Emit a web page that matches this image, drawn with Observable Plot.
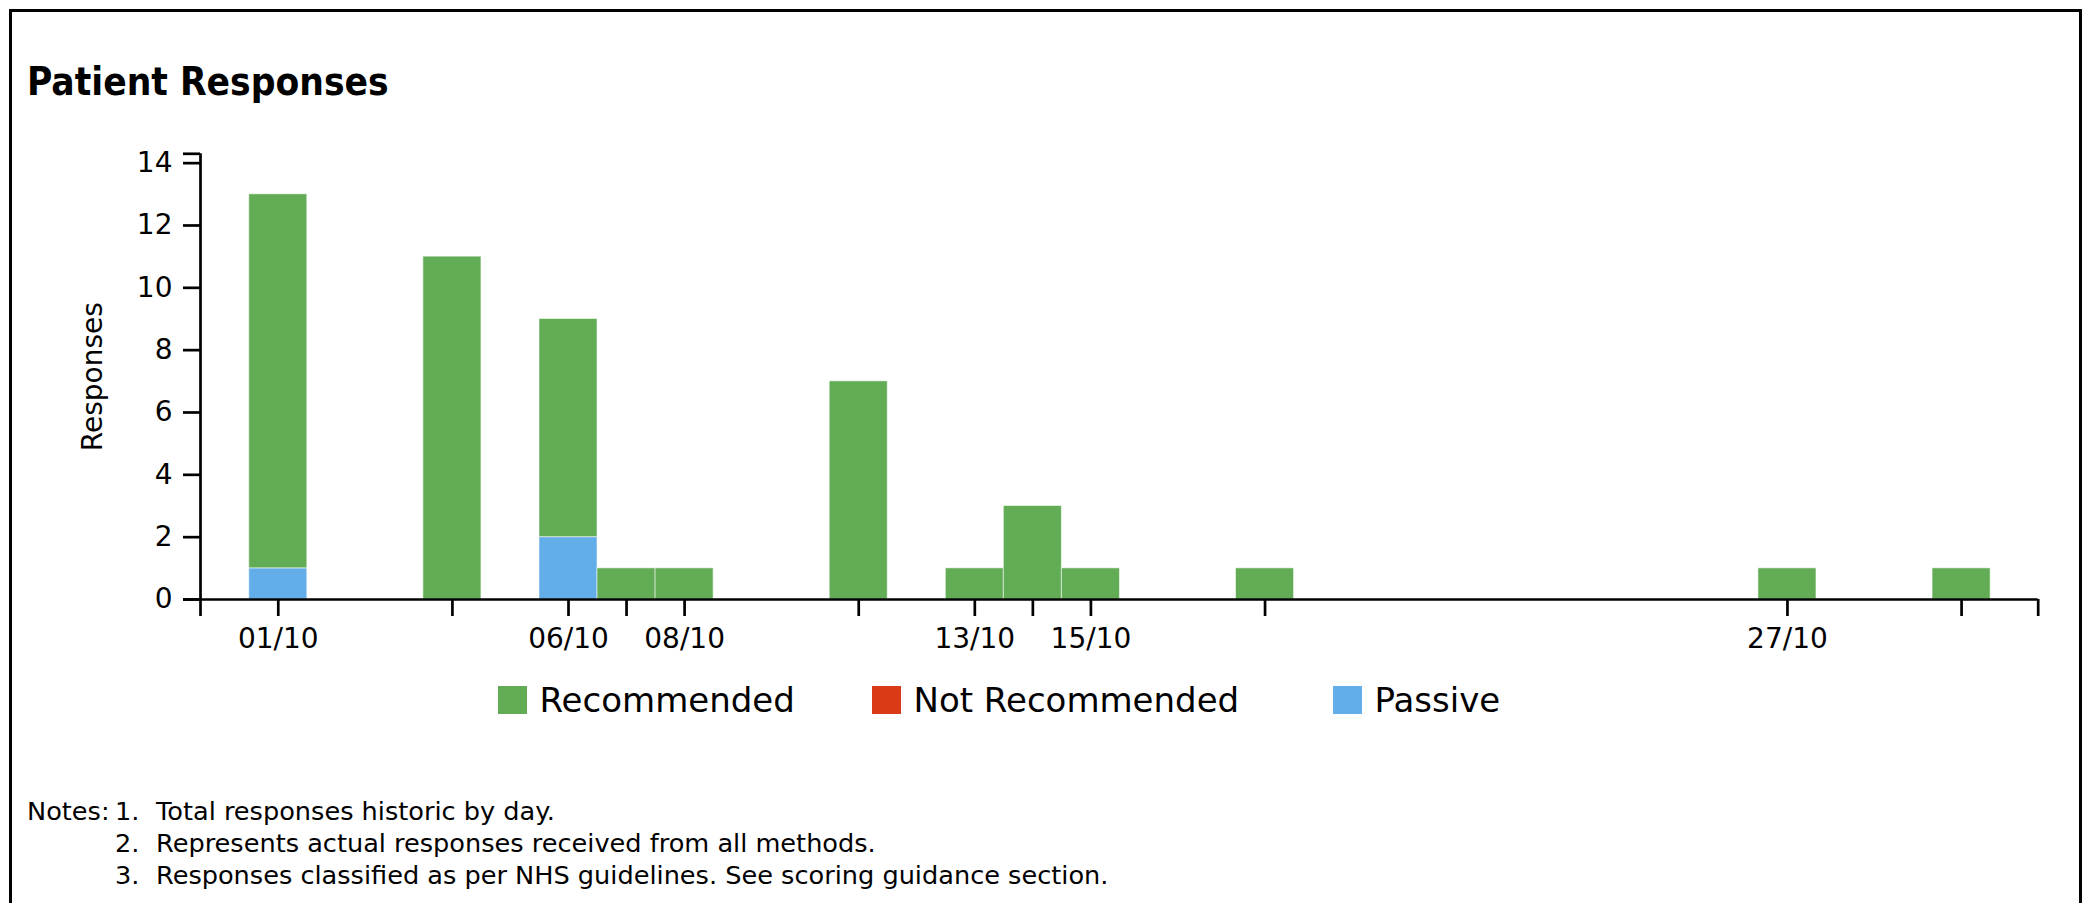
<!DOCTYPE html>
<html>
<head>
<meta charset="utf-8">
<script src="https://cdn.jsdelivr.net/npm/d3@7"></script>
<script src="https://cdn.jsdelivr.net/npm/@observablehq/plot@0.6"></script>
<style>
  html, body { margin: 0; padding: 0; background: #fff; overflow: hidden; width: 2092px; height: 903px; }
  body { position: relative; font-family: "DejaVu Sans", sans-serif; color: #000; }
  #frame { position: absolute; left: 9px; top: 9px; width: 2067px; height: 1000px; border: 3px solid #000; }
  #title { position: absolute; left: 27px; top: 63px; font-family: "DejaVu Sans Condensed", "DejaVu Sans", sans-serif; font-stretch: condensed; font-size: 38.5px; line-height: 38.5px; font-weight: bold; margin: 0; white-space: nowrap; }
  #chart { position: absolute; left: 12px; top: 130px; }
  #legend { position: absolute; left: 498px; top: 683px; display: flex; align-items: center; font-size: 34px; line-height: 34px; white-space: nowrap; }
  #legend .item { display: flex; align-items: center; }
  #legend .item:nth-child(1) { width: 374px; }
  #legend .item:nth-child(2) { width: 461px; }
  #legend .sw { width: 28.5px; height: 28.5px; margin-right: 13px; }
  #notes { position: absolute; left: 27px; top: 795px; font-size: 25.6px; line-height: 32px; display: grid; grid-template-columns: 88px 41px auto; white-space: pre; }
</style>
</head>
<body>
<div id="frame"></div>
<h1 id="title">Patient Responses</h1>
<div id="chart"></div>
<div id="legend"></div>
<div id="notes"></div>
<script>
// ---- data ----
const days = ["01/10", "04/10", "06/10", "07/10", "08/10", "11/10", "13/10", "14/10", "15/10", "18/10", "27/10", "30/10"];
const recommended    = [12, 11, 7, 1, 1, 7, 1, 3, 1, 1, 1, 1];
const notRecommended = [0, 0, 0, 0, 0, 0, 0, 0, 0, 0, 0, 0];
const passive        = [1, 0, 2, 0, 0, 0, 0, 0, 0, 0, 0, 0];
const xTickLabels = ["01/10", "06/10", "08/10", "13/10", "15/10", "27/10"];
const yTicks = [0, 2, 4, 6, 8, 10, 12, 14];
const seriesNames = ["Recommended", "Not Recommended", "Passive"];
const seriesColors = ["#62ac55", "#db3a16", "#63ade9"];
const yLabel = "Responses";
const notes = [
  "Total responses historic by day.",
  "Represents actual responses received from all methods.",
  "Responses classified as per NHS guidelines. See scoring guidance section."
];

// ---- build ----
const DAY = 864e5;
const toDate = s => { const [d, m] = s.split("/").map(Number); return new Date(Date.UTC(2023, m - 1, d)); };
const rows = days.map((d, i) => {
  const date = toDate(d);
  return {
    label: d,
    x1: new Date(+date - DAY / 2),
    x2: new Date(+date + DAY / 2),
    date,
    p0: 0, p1: passive[i],
    n0: passive[i], n1: passive[i] + notRecommended[i],
    r0: passive[i] + notRecommended[i], r1: passive[i] + notRecommended[i] + recommended[i]
  };
});
const totals = rows.map(r => r.r1);
const yMax = d3.max(totals) * 1.1;
const xDomain = [new Date(+rows[0].date - 1.34 * DAY), new Date(+rows[rows.length - 1].date + 1.32 * DAY)];
const fmt = d3.utcFormat("%d/%m");
const labelSet = new Set(xTickLabels);

const barStyle = {stroke: "#fff", strokeOpacity: 0.55, strokeWidth: 1};
const SW = 2.7;

const plot = Plot.plot({
  width: 2067,
  height: 540,
  marginTop: 23.3,
  marginBottom: 71,
  marginLeft: 188,
  marginRight: 41.3,
  style: {fontFamily: "DejaVu Sans", background: "transparent", color: "#000"},
  x: {type: "utc", domain: xDomain},
  y: {domain: [0, yMax]},
  marks: [
    Plot.rectY(rows, {x1: "x1", x2: "x2", y1: "p0", y2: "p1", fill: seriesColors[2], ...barStyle}),
    Plot.rectY(rows, {x1: "x1", x2: "x2", y1: "n0", y2: "n1", fill: seriesColors[1], ...barStyle}),
    Plot.rectY(rows, {x1: "x1", x2: "x2", y1: "r0", y2: "r1", fill: seriesColors[0], ...barStyle}),
    Plot.ruleY([0], {strokeWidth: SW}),
    Plot.ruleX([xDomain[0]], {strokeWidth: SW}),
    Plot.axisY({ticks: yTicks, tickSize: 17, tickPadding: 11, fontSize: 28, label: null, strokeWidth: SW}),
    Plot.axisY({ticks: [0, yMax], tickSize: 17, tickFormat: () => "", label: null, strokeWidth: SW}),
    Plot.axisX({ticks: rows.map(r => r.date), tickSize: 17, tickPadding: 12, fontSize: 28, label: null, strokeWidth: SW,
      tickFormat: d => labelSet.has(fmt(d)) ? fmt(d) : ""}),
    Plot.axisX({ticks: xDomain, tickSize: 17, tickFormat: () => "", label: null, strokeWidth: SW}),
    Plot.text([yLabel], {frameAnchor: "left", rotate: -90, dx: -118, lineAnchor: "top", textAnchor: "middle", fontSize: 28, fill: "#000"})
  ]
});
document.getElementById("chart").appendChild(plot);

// legend
const legend = document.getElementById("legend");
seriesNames.forEach((name, i) => {
  const item = document.createElement("div");
  item.className = "item";
  const sw = document.createElement("span");
  sw.className = "sw";
  sw.style.background = seriesColors[i];
  const t = document.createElement("span");
  t.textContent = name;
  item.appendChild(sw);
  item.appendChild(t);
  legend.appendChild(item);
});

// notes
const notesEl = document.getElementById("notes");
notes.forEach((n, i) => {
  const a = document.createElement("span"); a.textContent = i === 0 ? "Notes:" : "";
  const b = document.createElement("span"); b.textContent = (i + 1) + ".";
  const c = document.createElement("span"); c.textContent = n;
  notesEl.appendChild(a); notesEl.appendChild(b); notesEl.appendChild(c);
});
</script>
</body>
</html>
